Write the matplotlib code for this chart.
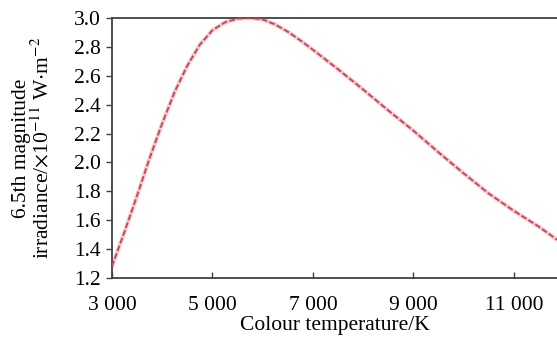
import matplotlib
matplotlib.use("Agg")
import matplotlib.pyplot as plt

plt.rcParams['font.family'] = ['Liberation Serif', 'DejaVu Serif']
plt.rcParams['mathtext.fontset'] = 'stix'

# colour temperature (K) and irradiance (x1e-11 W m^-2)
temp = [3000, 3250, 3500, 3750, 4000, 4250, 4500, 4750, 5000, 5250, 5500,
        5750, 6000, 6250, 6500, 6750, 7000, 7500, 8000, 8500, 9000, 9500,
        10000, 10500, 11000, 11500, 11860]
irr = [1.28, 1.52, 1.77, 2.03, 2.27, 2.49, 2.67, 2.815, 2.915, 2.97, 2.995,
       3.0, 2.99, 2.955, 2.905, 2.845, 2.78, 2.645, 2.505, 2.36, 2.22, 2.07,
       1.925, 1.785, 1.665, 1.555, 1.465]

xticks = [3000, 5000, 7000, 9000, 11000]
xticklabels = ['3 000', '5 000', '7 000', '9 000', '11 000']
yticks = [1.2, 1.4, 1.6, 1.8, 2.0, 2.2, 2.4, 2.6, 2.8, 3.0]

fig = plt.figure(figsize=(5.57, 3.39), dpi=100)
ax = fig.add_axes([0.201, 0.18, 0.799, 0.767])

ax.plot(temp, irr, color='#f6cdd2', linewidth=3, solid_capstyle='round', zorder=2)
ax.plot(temp, irr, color='#c44a5a', linewidth=1.4, linestyle=(0, (3, 1.2)), zorder=3)

ax.set_xlim(3000, 11860)
ax.set_ylim(1.2, 3.0)
ax.set_xticks(xticks)
ax.set_xticklabels(xticklabels)
ax.set_yticks(yticks)
ax.set_yticklabels([f'{v:.1f}' for v in yticks])

for s in ['top', 'bottom', 'left']:
    ax.spines[s].set_color('#404040')
    ax.spines[s].set_linewidth(1.3)
ax.spines['right'].set_visible(False)

ax.tick_params(axis='x', direction='in', length=4, width=1, colors='#404040',
               labelcolor='black', labelsize=15.5, pad=13)
ax.tick_params(axis='y', direction='out', length=4, width=1, colors='#404040',
               labelcolor='black', labelsize=15.5, pad=4)

ax.set_xlabel('Colour temperature/K', fontsize=15.5, labelpad=1)
ax.set_ylabel('6.5th magnitude\nirradiance/$\\times$10$^{-11}$ W$\\cdot$m$^{-2}$',
              fontsize=15.5, linespacing=1.0, labelpad=15)

fig.savefig('out.png', dpi=100)
